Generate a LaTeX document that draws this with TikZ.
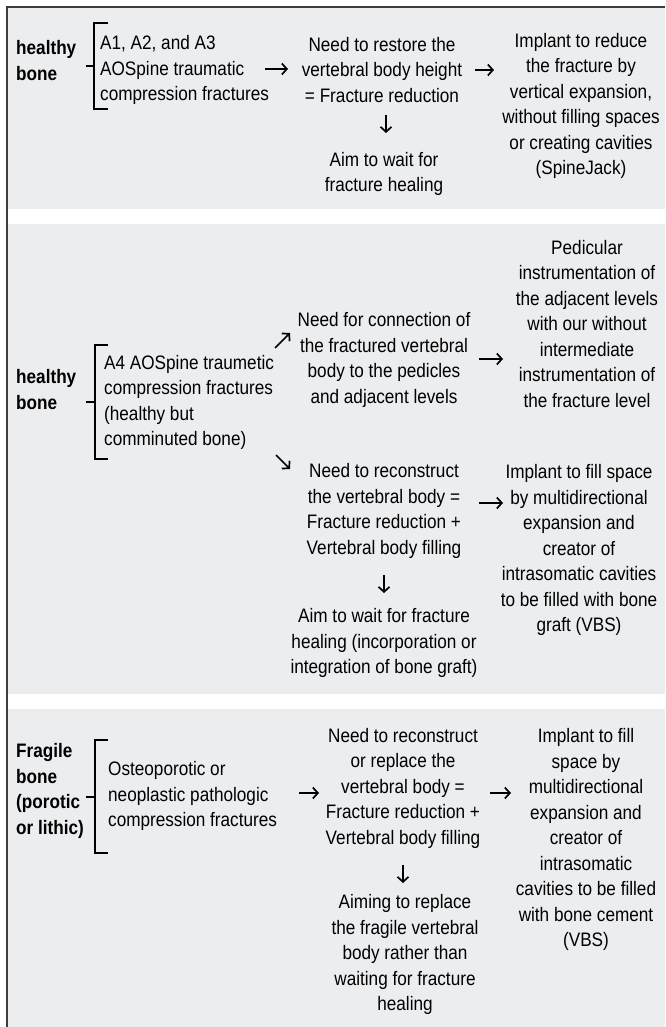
\documentclass[tikz,border=0pt]{standalone}
\usepackage{fontspec}
\setmainfont{Liberation Sans}[FakeStretch=0.88]
\usetikzlibrary{arrows.meta}
\definecolor{panelgray}{HTML}{ECEDEF}
\definecolor{rulegray}{HTML}{3C3C3C}
\tikzset{
  txt/.style={font=\fontsize{19.5}{25.5}\selectfont, align=center, inner sep=0pt, text=black},
  txtl/.style={txt, align=left},
  lbl/.style={font=\fontsize{19.5}{25.5}\selectfont\bfseries, align=left, inner sep=0pt, text=black},
  arr/.style={line width=1.7pt, -{Straight Barb[length=5pt,width=11pt]}},
  brk/.style={line width=2pt, draw=black},
}
\begin{document}
\begin{tikzpicture}[x=1pt,y=-1pt]
\useasboundingbox (0,0) rectangle (665,1027);
\fill[white] (0,0) rectangle (665,1027);
% panels
\fill[panelgray] (7,8) rectangle (665,209);
\fill[panelgray] (7,224) rectangle (665,694);
\fill[panelgray] (7,709) rectangle (665,1027);
\draw[rulegray, line width=1.5pt] (665,7) -- (7,7) -- (7,1027);

% ---------- panel 1
\node[lbl, anchor=west] (h1) at (16,60.5) {healthy\\bone};
\draw[brk] (108,23) -- (94,23) -- (94,109) -- (108,109);
\draw[brk] (86,66) -- (94,66);
\node[txtl, anchor=west] (a1) at (100,70) {A1, A2, and A3\\AOSpine traumatic\\compression fractures};
\node[txt] (n1) at (382,70) {Need to restore the\\vertebral body height\\= Fracture reduction};
\node[txt] (i1) at (581,106) {Implant to reduce\\the fracture by\\vertical expansion,\\without filling spaces\\or creating cavities\\(SpineJack)};
\node[txt] (w1) at (384,174) {Aim to wait for\\fracture healing};
\coordinate (p1a) at (265,69); \coordinate (p1b) at (288,69);
\coordinate (p1c) at (475,70); \coordinate (p1d) at (494,70);
\coordinate (p1e) at (386,115); \coordinate (p1f) at (386,133);
\draw[arr] (p1a) -- (p1b);
\draw[arr] (p1c) -- (p1d);
\draw[arr] (p1e) -- (p1f);

% ---------- panel 2
\node[lbl, anchor=west] (h2) at (16,389.5) {healthy\\bone};
\draw[brk] (108,345) -- (95,345) -- (95,459) -- (108,459);
\draw[brk] (86,402) -- (95,402);
\node[txtl, anchor=west] (a2) at (104,402.5) {A4 AOSpine traumetic\\compression fractures\\(healthy but\\comminuted bone)};
\node[txt] (n2) at (384,360) {Need for connection of\\the fractured vertebral\\body to the pedicles\\and adjacent levels};
\node[txt] (i2) at (587,324) {Pedicular\\instrumentation of\\the adjacent levels\\with our without\\intermediate\\instrumentation of\\the fracture level};
\node[txt] (r2) at (384,511) {Need to reconstruct\\the vertebral body =\\Fracture reduction +\\Vertebral body filling};
\node[txt] (f2) at (579,550) {Implant to fill space\\by multidirectional\\expansion and\\creator of\\intrasomatic cavities\\to be filled with bone\\graft (VBS)};
\node[txt] (w2) at (384,643) {Aim to wait for fracture\\healing (incorporation or\\integration of bone graft)};
\coordinate (p2a) at (275,348); \coordinate (p2b) at (290,333);
\coordinate (p2c) at (276,455); \coordinate (p2d) at (290,469);
\coordinate (p2e) at (479,359); \coordinate (p2f) at (503,359);
\coordinate (p2g) at (479,503); \coordinate (p2h) at (503,503);
\coordinate (p2i) at (384,575); \coordinate (p2j) at (384,593);
\draw[arr] (p2a) -- (p2b);
\draw[arr] (p2c) -- (p2d);
\draw[arr] (p2e) -- (p2f);
\draw[arr] (p2g) -- (p2h);
\draw[arr] (p2i) -- (p2j);

% ---------- panel 3
\node[lbl, anchor=west] (h3) at (16,791) {Fragile\\bone\\(porotic\\or lithic)};
\draw[brk] (108,740) -- (95,740) -- (95,853) -- (108,853);
\draw[brk] (86,797) -- (95,797);
\node[txtl, anchor=west] (a3) at (108,796) {Osteoporotic or\\neoplastic pathologic\\compression fractures};
\node[txt] (n3) at (403,788) {Need to reconstruct\\or replace the\\vertebral body =\\Fracture reduction +\\Vertebral body filling};
\node[txt] (i3) at (586,839.5) {Implant to fill\\space by\\multidirectional\\expansion and\\creator of\\intrasomatic\\cavities to be filled\\with bone cement\\(VBS)};
\node[txt] (w3) at (405,954.5) {Aiming to replace\\the fragile vertebral\\body rather than\\waiting for fracture\\healing};
\coordinate (p3a) at (299,793); \coordinate (p3b) at (319,793);
\coordinate (p3c) at (490,793); \coordinate (p3d) at (511,793);
\coordinate (p3e) at (403,865); \coordinate (p3f) at (403,883);
\draw[arr] (p3a) -- (p3b);
\draw[arr] (p3c) -- (p3d);
\draw[arr] (p3e) -- (p3f);
\end{tikzpicture}
\end{document}
